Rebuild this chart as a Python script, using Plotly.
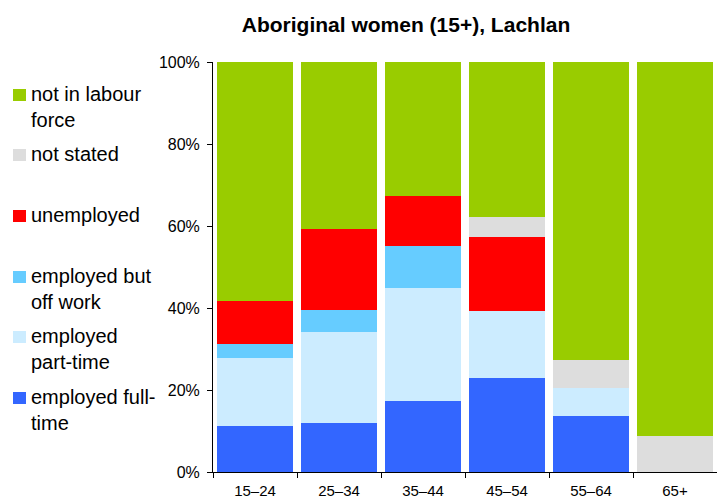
import plotly.graph_objects as go

categories = ["15–24", "25–34", "35–44", "45–54", "55–64", "65+"]
series_names = ["employed full-time", "employed part-time", "employed but off work",
                "unemployed", "not stated", "not in labour force"]
full_time = [11.3, 11.9, 17.3, 22.9, 13.7, 0.0]
part_time = [16.6, 22.3, 27.6, 16.4, 6.8, 0.0]
off_work = [3.4, 5.2, 10.3, 0.0, 0.0, 0.0]
unemployed = [10.4, 19.8, 12.0, 18.0, 0.0, 0.0]
not_stated = [0.0, 0.0, 0.0, 5.0, 6.8, 8.9]
not_in_lf = [58.3, 40.8, 32.8, 37.7, 72.7, 91.1]
y_ticks = [0, 20, 40, 60, 80, 100]
y_tick_labels = ["0%", "20%", "40%", "60%", "80%", "100%"]

colors = ["#3366FF", "#CCECFF", "#66CCFF", "#FF0000", "#DDDDDD", "#99CC00"]
values = [full_time, part_time, off_work, unemployed, not_stated, not_in_lf]

fig = go.Figure()
for name, vals, col in zip(series_names, values, colors):
    fig.add_trace(go.Bar(x=categories, y=vals, name=name, marker_color=col,
                         marker_line_width=0, showlegend=False))

# page body has an 8px margin, so figure coords = image coords - 8
OFF = 8
font_family = "Liberation Sans, Arial, sans-serif"
fig.update_layout(
    barmode="stack",
    bargap=0.09,
    width=725, height=504,
    margin=dict(l=213 - OFF, r=725 - (717 - OFF), t=62 - OFF, b=504 - (472 - OFF)),
    plot_bgcolor="white", paper_bgcolor="white",
    font=dict(family=font_family, size=15, color="black"),
    title=dict(text="<b>Aboriginal women (15+), Lachlan</b>", x=(406 - OFF) / 725, xanchor="center",
               y=1 - (24.5 - OFF) / 504, yanchor="middle", font=dict(size=21, family=font_family)),
)
fig.update_yaxes(range=[0, 100], tickvals=y_ticks, ticktext=y_tick_labels,
                 showgrid=False, showline=True, linecolor="black", linewidth=1,
                 ticks="outside", ticklen=5, tickcolor="black", zeroline=False,
                 tickfont=dict(size=16), ticklabelstandoff=4)
fig.update_xaxes(showgrid=False, showline=True, linecolor="black", linewidth=1,
                 ticks="outside", ticklen=5, tickcolor="black", tickson="boundaries",
                 tickfont=dict(size=15), ticklabelstandoff=5)

# manual legend (left side); positions relative to plot area (x0=213, y0=472 in image px)
legend_labels = ["not in labour<br>force", "not stated", "unemployed",
                 "employed but<br>off work", "employed<br>part-time", "employed full-<br>time"]
legend_colors = ["#99CC00", "#DDDDDD", "#FF0000", "#66CCFF", "#CCECFF", "#3366FF"]
legend_y = [95, 155, 216, 277, 337, 398]
for lab, col, yc in zip(legend_labels, legend_colors, legend_y):
    fig.add_shape(type="rect", xref="paper", yref="paper",
                  x0=(13 - 213) / 504, x1=(26 - 213) / 504,
                  y0=(472 - (yc + 6)) / 410, y1=(472 - (yc - 6)) / 410,
                  fillcolor=col, line_width=0)
    fig.add_annotation(text=lab, xref="paper", yref="paper",
                       x=(29 - 213) / 504, y=(472 - (yc - 14)) / 410,
                       xanchor="left", yanchor="top", align="left", showarrow=False,
                       font=dict(size=20, family=font_family, color="black"))

fig.write_html("out.html")
